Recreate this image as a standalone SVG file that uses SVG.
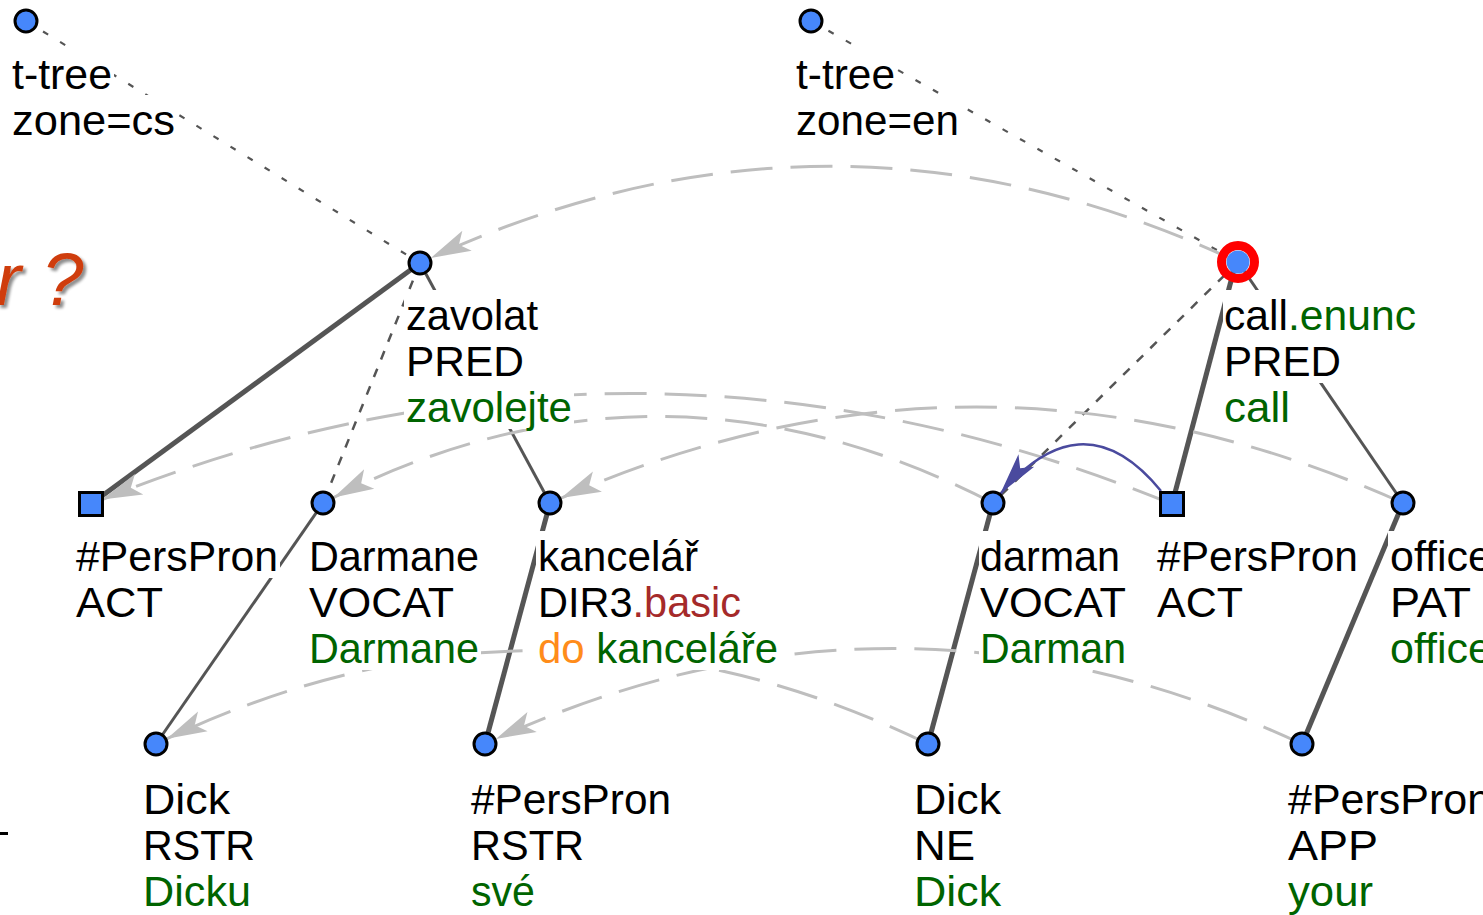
<svg xmlns="http://www.w3.org/2000/svg" width="1483" height="915" viewBox="0 0 1483 915">
  <style>
    text { font-family: "Liberation Sans", Arial, sans-serif; font-size: 43px; fill: #000; }
    .g { fill: #006400; }
    .br { fill: #a52a2a; }
    .or { fill: #ff8c1a; }
    .bg { fill: #fff; }
    .n { fill: #4687fb; stroke: #000; stroke-width: 3; }
    .e { stroke: #555; fill: none; stroke-linecap: butt; }
    .thick { stroke-width: 5; }
    .thin { stroke-width: 3; }
    .dot { stroke-width: 2.2; stroke-dasharray: 6 14; }
    .dash { stroke-width: 2.5; stroke-dasharray: 9 10; }
    .al { stroke: #bebebe; stroke-width: 3; fill: none; stroke-dasharray: 42 18; marker-end: url(#ga); }
    .coref { stroke: #4a4a9e; stroke-width: 2.5; fill: none; marker-end: url(#ba); }
    .title { font-size: 75px; font-style: italic; fill: #cf3d0c; }
  </style>
  <defs>
    <marker id="ga" markerUnits="userSpaceOnUse" orient="auto" overflow="visible" refX="0" refY="0" markerWidth="1" markerHeight="1">
      <path d="M-12,0 L-52,-11 L-43,0 L-52,11 Z" fill="#bebebe"/>
    </marker>
    <marker id="ba" markerUnits="userSpaceOnUse" orient="auto" overflow="visible" refX="0" refY="0" markerWidth="1" markerHeight="1">
      <path d="M-12,0 L-54,-10 L-44,0 L-54,10 Z" fill="#4a4a9e"/>
    </marker>
    <!-- soft drop shadow for the slide title -->
    <filter id="sh" x="-20%" y="-20%" width="140%" height="140%">
      <feGaussianBlur in="SourceAlpha" stdDeviation="1.5" result="b"/>
      <feOffset in="b" dx="3" dy="3" result="o"/>
      <feComponentTransfer in="o" result="s">
        <feFuncA type="linear" slope="0.45"/>
      </feComponentTransfer>
      <feMerge>
        <feMergeNode in="s"/>
        <feMergeNode in="SourceGraphic"/>
      </feMerge>
    </filter>
  </defs>

  <rect width="1483" height="915" fill="#fff"/>

  <!-- slide fragments at the left edge -->
  <g id="slide-fragment">
    <text class="title" x="-4" y="305" filter="url(#sh)">r ?</text>
    <rect x="0" y="832" width="8" height="3" fill="#000"/>
  </g>

  <!-- connectors: tree edges, alignment arcs, coreference -->
  <g id="connectors">
    <path class="e dot" d="M26,21 L420,263"/>
    <path class="e dot" d="M811,21 L1238,262"/>
    <path class="e thick" d="M420,263 L91,504"/>
    <path class="e dash" d="M420,263 L323,503"/>
    <path class="e thin" d="M420,263 L550,503"/>
    <path class="e thick" d="M1236,262 L1172,504"/>
    <path class="e dash" d="M1238,262 L993,503"/>
    <path class="e thin" d="M1238,262 L1403,503"/>
    <path class="e thin" d="M323,503 L156,744"/>
    <path class="e thick" d="M550,503 L485,744"/>
    <path class="e thick" d="M993,503 L928,744"/>
    <path class="e thick" d="M1403,503 L1302,744"/>

    <path class="al" d="M1238,262 Q829,70 420,263"/>
    <path class="al" d="M1172,504 Q631,283 91,504"/>
    <path class="al" d="M993,503 Q657,330 323,503"/>
    <path class="al" d="M1403,503 Q976,311 550,503"/>
    <path class="al" d="M928,744 Q542,557 156,744"/>
    <path class="al" d="M1302,744 Q893,553 485,744"/>

    <path class="coref" d="M1161,491 Q1080,392 993,503"/>
  </g>

  <!-- cs zone -->
  <g id="root-cs">
    <circle class="n" cx="26" cy="21" r="11"/>
    <rect class="bg" x="10" y="49" width="104" height="47"/>
    <text x="12" y="89" textLength="100" lengthAdjust="spacingAndGlyphs">t-tree</text>
    <rect class="bg" x="10" y="95" width="167" height="47"/>
    <text x="12" y="135" textLength="163" lengthAdjust="spacingAndGlyphs">zone=cs</text>
  </g>

  <g id="zavolat">
    <circle class="n" cx="420" cy="263" r="11"/>
    <rect class="bg" x="404" y="290" width="136" height="47"/>
    <text x="406" y="330" textLength="132" lengthAdjust="spacingAndGlyphs">zavolat</text>
    <rect class="bg" x="404" y="336" width="122" height="47"/>
    <text x="406" y="376" textLength="118" lengthAdjust="spacingAndGlyphs">PRED</text>
    <rect class="bg" x="404" y="382" width="170" height="47"/>
    <text class="g" x="406" y="422" textLength="166" lengthAdjust="spacingAndGlyphs">zavolejte</text>
  </g>

  <g id="perspron-act-cs">
    <rect class="n" x="79.5" y="492.5" width="23" height="23"/>
    <rect class="bg" x="74" y="531" width="206" height="47"/>
    <text x="76" y="571" textLength="202" lengthAdjust="spacingAndGlyphs">#PersPron</text>
    <rect class="bg" x="74" y="577" width="91" height="47"/>
    <text x="76" y="617" textLength="87" lengthAdjust="spacingAndGlyphs">ACT</text>
  </g>

  <g id="darmane">
    <circle class="n" cx="323" cy="503" r="11"/>
    <rect class="bg" x="307" y="531" width="174" height="47"/>
    <text x="309" y="571" textLength="170" lengthAdjust="spacingAndGlyphs">Darmane</text>
    <rect class="bg" x="307" y="577" width="149" height="47"/>
    <text x="309" y="617" textLength="145" lengthAdjust="spacingAndGlyphs">VOCAT</text>
    <rect class="bg" x="307" y="623" width="174" height="47"/>
    <text class="g" x="309" y="663" textLength="170" lengthAdjust="spacingAndGlyphs">Darmane</text>
  </g>

  <g id="kancelar">
    <circle class="n" cx="550" cy="503" r="11"/>
    <rect class="bg" x="536" y="531" width="164" height="47"/>
    <text x="538" y="571" textLength="160" lengthAdjust="spacingAndGlyphs">kancelář</text>
    <rect class="bg" x="536" y="577" width="207" height="47"/>
    <text x="538" y="617" textLength="203" lengthAdjust="spacingAndGlyphs">DIR3<tspan class="br">.basic</tspan></text>
    <rect class="bg" x="536" y="623" width="244" height="47"/>
    <text x="538" y="663" textLength="240" lengthAdjust="spacingAndGlyphs"><tspan class="or">do </tspan><tspan class="g">kanceláře</tspan></text>
  </g>

  <g id="dick-cs">
    <circle class="n" cx="156" cy="744" r="11"/>
    <rect class="bg" x="141" y="774" width="91" height="47"/>
    <text x="143" y="814" textLength="87" lengthAdjust="spacingAndGlyphs">Dick</text>
    <rect class="bg" x="141" y="820" width="116" height="47"/>
    <text x="143" y="860" textLength="112" lengthAdjust="spacingAndGlyphs">RSTR</text>
    <rect class="bg" x="141" y="866" width="112" height="47"/>
    <text class="g" x="143" y="906" textLength="108" lengthAdjust="spacingAndGlyphs">Dicku</text>
  </g>

  <g id="perspron-rstr">
    <circle class="n" cx="485" cy="744" r="11"/>
    <rect class="bg" x="469" y="774" width="204" height="47"/>
    <text x="471" y="814" textLength="200" lengthAdjust="spacingAndGlyphs">#PersPron</text>
    <rect class="bg" x="469" y="820" width="117" height="47"/>
    <text x="471" y="860" textLength="113" lengthAdjust="spacingAndGlyphs">RSTR</text>
    <rect class="bg" x="469" y="866" width="68" height="47"/>
    <text class="g" x="471" y="906" textLength="64" lengthAdjust="spacingAndGlyphs">své</text>
  </g>

  <!-- en zone -->
  <g id="root-en">
    <circle class="n" cx="811" cy="21" r="11"/>
    <rect class="bg" x="794" y="49" width="103" height="47"/>
    <text x="796" y="89" textLength="99" lengthAdjust="spacingAndGlyphs">t-tree</text>
    <rect class="bg" x="794" y="95" width="167" height="47"/>
    <text x="796" y="135" textLength="163" lengthAdjust="spacingAndGlyphs">zone=en</text>
  </g>

  <g id="call">
    <circle cx="1238" cy="262" r="16.5" fill="none" stroke="#ff0000" stroke-width="9"/>
    <circle cx="1238" cy="262" r="11.5" fill="#4687fb"/>
    <rect class="bg" x="1223" y="290" width="196" height="47"/>
    <text x="1224" y="330" textLength="192" lengthAdjust="spacingAndGlyphs">call<tspan class="g">.enunc</tspan></text>
    <rect class="bg" x="1223" y="336" width="121" height="47"/>
    <text x="1224" y="376" textLength="117" lengthAdjust="spacingAndGlyphs">PRED</text>
    <rect class="bg" x="1223" y="382" width="70" height="47"/>
    <text class="g" x="1224" y="422" textLength="66" lengthAdjust="spacingAndGlyphs">call</text>
  </g>

  <g id="darman">
    <circle class="n" cx="993" cy="503" r="11"/>
    <rect class="bg" x="979" y="531" width="144" height="47"/>
    <text x="980" y="571" textLength="140" lengthAdjust="spacingAndGlyphs">darman</text>
    <rect class="bg" x="979" y="577" width="150" height="47"/>
    <text x="980" y="617" textLength="146" lengthAdjust="spacingAndGlyphs">VOCAT</text>
    <rect class="bg" x="979" y="623" width="150" height="47"/>
    <text class="g" x="980" y="663" textLength="146" lengthAdjust="spacingAndGlyphs">Darman</text>
  </g>

  <g id="perspron-act-en">
    <rect class="n" x="1160.5" y="492.5" width="23" height="23"/>
    <rect class="bg" x="1155" y="531" width="205" height="47"/>
    <text x="1157" y="571" textLength="201" lengthAdjust="spacingAndGlyphs">#PersPron</text>
    <rect class="bg" x="1155" y="577" width="90" height="47"/>
    <text x="1157" y="617" textLength="86" lengthAdjust="spacingAndGlyphs">ACT</text>
  </g>

  <g id="office">
    <circle class="n" cx="1403" cy="503" r="11"/>
    <rect class="bg" x="1388" y="531" width="100" height="47"/>
    <text x="1390" y="571">office</text>
    <rect class="bg" x="1388" y="577" width="85" height="47"/>
    <text x="1390" y="617" textLength="81" lengthAdjust="spacingAndGlyphs">PAT</text>
    <rect class="bg" x="1388" y="623" width="100" height="47"/>
    <text class="g" x="1390" y="663">office</text>
  </g>

  <g id="dick-en">
    <circle class="n" cx="928" cy="744" r="11"/>
    <rect class="bg" x="912" y="774" width="91" height="47"/>
    <text x="914" y="814" textLength="87" lengthAdjust="spacingAndGlyphs">Dick</text>
    <rect class="bg" x="912" y="820" width="65" height="47"/>
    <text x="914" y="860" textLength="61" lengthAdjust="spacingAndGlyphs">NE</text>
    <rect class="bg" x="912" y="866" width="91" height="47"/>
    <text class="g" x="914" y="906" textLength="87" lengthAdjust="spacingAndGlyphs">Dick</text>
  </g>

  <g id="perspron-app">
    <circle class="n" cx="1302" cy="744" r="11"/>
    <rect class="bg" x="1286" y="774" width="200" height="47"/>
    <text x="1288" y="814">#PersPron</text>
    <rect class="bg" x="1286" y="820" width="94" height="47"/>
    <text x="1288" y="860" textLength="90" lengthAdjust="spacingAndGlyphs">APP</text>
    <rect class="bg" x="1286" y="866" width="89" height="47"/>
    <text class="g" x="1288" y="906" textLength="85" lengthAdjust="spacingAndGlyphs">your</text>
  </g>
</svg>
